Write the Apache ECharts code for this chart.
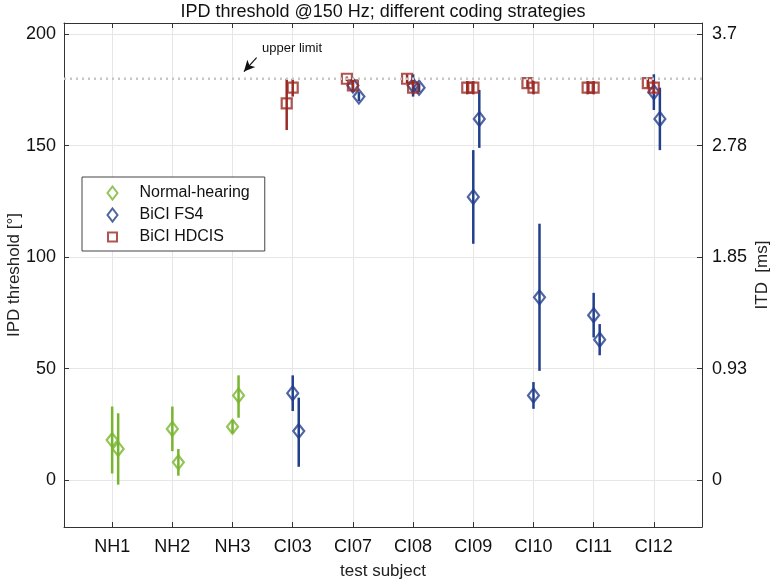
<!DOCTYPE html>
<html>
<head>
<meta charset="utf-8">
<script src="https://cdn.jsdelivr.net/npm/echarts@6.0.0/dist/echarts.min.js"></script>
<style>
html, body { margin: 0; padding: 0; background: #fff; }
#chart { width: 777px; height: 587px; }
</style>
</head>
<body>
<div id="chart"></div>
<script>
// test subjects on the x axis
const subjects = ['NH1', 'NH2', 'NH3', 'CI03', 'CI07', 'CI08', 'CI09', 'CI10', 'CI11', 'CI12'];
const yTicks = [0, 50, 100, 150, 200];
const itdTicks = ['0', '0.93', '1.85', '2.78', '3.7'];
const upperLimit = 180;

// Normal-hearing: two measurements per listener (mean, lower, upper)
const nhSubj = ['NH1', 'NH1', 'NH2', 'NH2', 'NH3', 'NH3'];
const nhMean = [18, 14, 23, 8, 24, 38];
const nhLow = [3, -2, 13, 2, 21, 28];
const nhHigh = [33, 30, 33, 14, 27, 47];

// BiCI FS4
const fsSubj = ['CI03', 'CI03', 'CI07', 'CI07', 'CI08', 'CI08', 'CI09', 'CI09', 'CI10', 'CI10', 'CI11', 'CI11', 'CI12', 'CI12'];
const fsMean = [39, 22, 177, 172, 177, 176, 127, 162, 38, 82, 74, 63, 174, 162];
const fsLow = [31, 6, 174, 170, 172, 174, 106, 149, 32, 49, 64, 56, 166, 148];
const fsHigh = [47, 37, 180, 174, 182, 178, 148, 175, 44, 115, 84, 70, 182, 176];

// BiCI HDCIS
const hdSubj = fsSubj;
const hdMean = [169, 176, 180, 177, 180, 176, 176, 176, 178, 176, 176, 176, 178, 176];
const hdLow = [157, 172, 179, 174, 178, 173, 173, 173, 176, 173, 173, 173, 176, 173];
const hdHigh = [180, 180, 181, 180, 182, 180, 179, 179, 180, 179, 179, 179, 180, 179];

const cGreen = '#77b52e';
const cBlue = '#223f8c';
const cRed = '#9b2b25';
const font = 'Liberation Sans, Arial, Helvetica, sans-serif';

function buildPoints(subj, mean, low, high, shift) {
    return mean.map(function (m, i) {
        const x = subjects.indexOf(subj[i]) + 1 + shift[i % 2];
        return [x, m, low[i], high[i]];
    });
}

const nhData = buildPoints(nhSubj, nhMean, nhLow, nhHigh, [0, 0.1]);
const fsData = buildPoints(fsSubj, fsMean, fsLow, fsHigh, [0, 0.1]);
const hdData = buildPoints(hdSubj, hdMean, hdLow, hdHigh, [-0.1, 0]);

function errorBars(name, data, color) {
    return {
        name: name + ' err',
        type: 'custom',
        data: data,
        encode: { x: 0, y: [2, 3] },
        renderItem: function (params, api) {
            const p1 = api.coord([api.value(0), api.value(2)]);
            const p2 = api.coord([api.value(0), api.value(3)]);
            return {
                type: 'line',
                shape: { x1: p1[0], y1: p1[1], x2: p2[0], y2: p2[1] },
                style: { stroke: color, lineWidth: 2.5 }
            };
        },
        silent: true
    };
}

function markers(name, data, color, symbol, size) {
    return {
        name: name,
        type: 'scatter',
        data: data,
        encode: { x: 0, y: 1 },
        symbol: symbol,
        symbolSize: size,
        itemStyle: { color: 'rgba(0,0,0,0)', borderColor: color, borderWidth: 2.2 }
    };
}

const xTickVals = subjects.map(function (s, i) { return i + 1; });
const axisColor = '#333';

let chart = echarts.init(document.getElementById('chart'));
chart.setOption({
    animation: false,
    backgroundColor: '#fff',
    title: {
        text: 'IPD threshold @150 Hz; different coding strategies',
        left: 383,
        textAlign: 'center',
        top: 3,
        padding: 0,
        textStyle: { fontFamily: font, fontSize: 18, fontWeight: 'normal', color: '#111' }
    },
    legend: {
        orient: 'vertical',
        left: 82,
        top: 177,
        padding: [8, 15, 6, 24],
        itemWidth: 44,
        itemHeight: 13,
        itemGap: 6,
        backgroundColor: '#fff',
        borderColor: '#444',
        borderWidth: 1,
        textStyle: { fontFamily: font, fontSize: 16, color: '#111' },
        data: [
            { name: 'Normal-hearing', icon: 'path://M5,0L10,6.5L5,13L0,6.5Z',
              itemStyle: { color: 'rgba(0,0,0,0)', borderColor: cGreen, borderWidth: 2 } },
            { name: 'BiCI FS4', icon: 'path://M5,0L10,6.5L5,13L0,6.5Z',
              itemStyle: { color: 'rgba(0,0,0,0)', borderColor: cBlue, borderWidth: 2 } },
            { name: 'BiCI HDCIS', icon: 'path://M0,0M1,2h9v9h-9zM11,13',
              itemStyle: { color: 'rgba(0,0,0,0)', borderColor: cRed, borderWidth: 2 } }
        ]
    },
    grid: { left: 64, right: 75, top: 23, bottom: 60, outerBoundsMode: 'none' },
    xAxis: [{
        type: 'value',
        min: 0.2,
        max: 10.8,
        position: 'bottom',
        name: 'test subject',
        nameLocation: 'middle',
        nameGap: 36,
        nameMoveOverlap: false,
        nameTextStyle: { fontFamily: font, fontSize: 17, color: '#222' },
        axisLine: { onZero: false, lineStyle: { color: axisColor, width: 1 } },
        axisTick: { inside: true, length: 5, customValues: xTickVals, lineStyle: { color: axisColor } },
        axisLabel: {
            customValues: xTickVals,
            margin: 11,
            fontFamily: font, fontSize: 18, color: '#111',
            formatter: function (v) { return subjects[Math.round(v) - 1]; }
        },
        splitLine: { show: true, lineStyle: { color: '#e6e6e6', width: 1 } }
    }, {
        type: 'value',
        min: 0.2,
        max: 10.8,
        position: 'top',
        axisLine: { show: true, onZero: false, lineStyle: { color: axisColor, width: 1 } },
        axisTick: { inside: true, length: 5, customValues: xTickVals, lineStyle: { color: axisColor } },
        axisLabel: { show: false },
        splitLine: { show: false }
    }],
    yAxis: [{
        type: 'value',
        min: -21,
        max: 205,
        position: 'left',
        name: 'IPD threshold [°]',
        nameLocation: 'middle',
        nameRotate: 90,
        nameGap: 41,
        nameMoveOverlap: false,
        nameTextStyle: { fontFamily: font, fontSize: 17, color: '#222' },
        axisLine: { show: true, onZero: false, lineStyle: { color: axisColor, width: 1 } },
        axisTick: { show: true, inside: true, length: 5, customValues: yTicks, lineStyle: { color: axisColor } },
        axisLabel: { customValues: yTicks, margin: 8, fontFamily: font, fontSize: 18, color: '#111' },
        splitLine: { show: true, lineStyle: { color: '#e6e6e6', width: 1 } }
    }, {
        type: 'value',
        min: -21,
        max: 205,
        position: 'right',
        name: 'ITD  [ms]',
        nameLocation: 'middle',
        nameRotate: 90,
        nameGap: 52,
        nameMoveOverlap: false,
        nameTextStyle: { fontFamily: font, fontSize: 17, color: '#222' },
        axisLine: { show: true, onZero: false, lineStyle: { color: axisColor, width: 1 } },
        axisTick: { show: true, inside: true, length: 5, customValues: yTicks, lineStyle: { color: axisColor } },
        axisLabel: {
            customValues: yTicks, margin: 10, fontFamily: font, fontSize: 18, color: '#111',
            formatter: function (v) { return itdTicks[yTicks.indexOf(Math.round(v))]; }
        },
        splitLine: { show: false }
    }],
    series: [
        {
            name: 'upper limit',
            type: 'line',
            data: [[0.2, upperLimit], [10.8, upperLimit]],
            symbol: 'none',
            silent: true,
            lineStyle: { color: '#c6c6c6', width: 2.5, type: [2, 4] },
            markLine: {
                silent: true,
                symbol: ['none', 'arrow'],
                symbolSize: [8, 11],
                label: { show: false },
                lineStyle: { color: '#111', width: 1.2, type: 'solid' },
                data: [[{ coord: [3.40, 189.5] }, { coord: [3.19, 183.2] }]]
            },
            markPoint: {
                silent: true,
                symbol: 'circle',
                symbolSize: 0,
                data: [{ coord: [3.49, 193.4] }],
                label: {
                    show: true, position: 'right', distance: 0,
                    formatter: 'upper limit',
                    fontFamily: font, fontSize: 13, color: '#111'
                }
            }
        },
        errorBars('Normal-hearing', nhData, cGreen),
        markers('Normal-hearing', nhData, cGreen, 'diamond', [11, 14]),
        errorBars('BiCI FS4', fsData, cBlue),
        markers('BiCI FS4', fsData, cBlue, 'diamond', [11, 14]),
        errorBars('BiCI HDCIS', hdData, cRed),
        markers('BiCI HDCIS', hdData, cRed, 'rect', [10, 10])
    ]
});
</script>
</body>
</html>
